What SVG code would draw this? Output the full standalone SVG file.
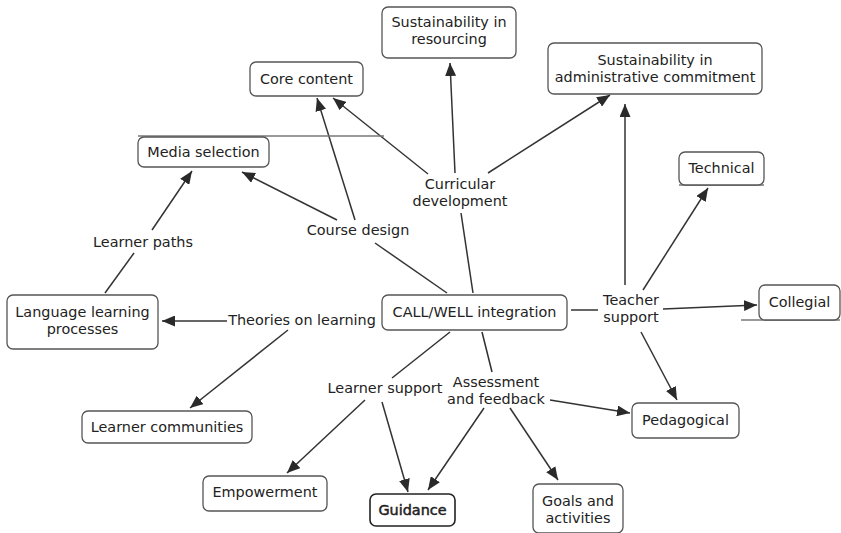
<svg xmlns="http://www.w3.org/2000/svg" width="841" height="533" viewBox="0 0 841 533">
<defs>
<marker id="ah" markerUnits="userSpaceOnUse" markerWidth="13" markerHeight="11" refX="13" refY="5.5" orient="auto">
<path d="M0,0 L13,5.5 L0,11 z" fill="#2a2a2a"/>
</marker>
</defs>
<style>
.box{fill:#fff;stroke:#555;stroke-width:1.3}
.bold{stroke:#222;stroke-width:1.6}
.t{font-family:"DejaVu Sans","Liberation Sans",sans-serif;font-size:14.4px;fill:#222;text-anchor:middle}
.c{stroke:#333;stroke-width:1.5;fill:none}
.ca{stroke:#333;stroke-width:1.5;fill:none;marker-end:url(#ah)}
.deco{stroke:#777;stroke-width:1.5}
</style>
<rect width="841" height="533" fill="#fff"/>
<g id="connectors">
<line class="c" x1="473" y1="293" x2="461" y2="213"/>
<line class="ca" x1="455" y1="173" x2="450" y2="63"/>
<line class="ca" x1="488" y1="173" x2="610" y2="95"/>
<line class="ca" x1="428" y1="174" x2="333" y2="98"/>
<line class="c" x1="447" y1="293" x2="375" y2="243"/>
<line class="ca" x1="355" y1="220" x2="317" y2="98"/>
<line class="ca" x1="337" y1="220" x2="242" y2="172"/>
<line class="c" x1="105" y1="293" x2="134" y2="253"/>
<line class="ca" x1="152" y1="230" x2="192" y2="171"/>
<line class="ca" x1="227" y1="321" x2="162" y2="321"/>
<line class="ca" x1="288" y1="330" x2="190" y2="408"/>
<line class="c" x1="571" y1="310" x2="598" y2="310" stroke-width="1"/>
<line class="ca" x1="625" y1="285" x2="625" y2="104"/>
<line class="ca" x1="643" y1="290" x2="708" y2="188"/>
<line class="ca" x1="663" y1="309" x2="757" y2="305"/>
<line class="ca" x1="641" y1="332" x2="677" y2="400"/>
<line class="c" x1="450" y1="332" x2="392" y2="378" stroke="#666"/>
<line class="ca" x1="365" y1="400" x2="287" y2="473"/>
<line class="ca" x1="382" y1="402" x2="408" y2="492"/>
<line class="c" x1="482" y1="332" x2="492" y2="372"/>
<line class="ca" x1="484" y1="408" x2="428" y2="490"/>
<line class="ca" x1="510" y1="408" x2="558" y2="480"/>
<line class="ca" x1="550" y1="400" x2="630" y2="413"/>
</g>
<g id="decorations">
<line class="deco" x1="138" y1="136" x2="384" y2="136"/>
<line class="deco" x1="741" y1="320" x2="840" y2="320"/>
<line class="deco" x1="679" y1="185" x2="764" y2="185"/>
</g>
<g id="sust-resourcing">
<rect class="box" x="382" y="7" width="134" height="51" rx="6"/>
<text class="t" x="449" y="27">Sustainability in</text>
<text class="t" x="449" y="44">resourcing</text>
</g>
<g id="core-content">
<rect class="box" x="250" y="62" width="113" height="34" rx="6"/>
<text class="t" x="306.5" y="84">Core content</text>
</g>
<g id="sust-admin">
<rect class="box" x="548" y="43" width="214" height="51" rx="6"/>
<text class="t" x="655" y="65">Sustainability in</text>
<text class="t" x="655" y="82">administrative commitment</text>
</g>
<g id="media-selection">
<rect class="box" x="138" y="137" width="131" height="30" rx="6"/>
<text class="t" x="203.5" y="157">Media selection</text>
</g>
<g id="technical">
<rect class="box" x="679" y="152" width="85" height="33" rx="6"/>
<text class="t" x="721.5" y="173">Technical</text>
</g>
<g id="language-learning">
<rect class="box" x="7" y="295" width="151" height="54" rx="6"/>
<text class="t" x="82.5" y="317">Language learning</text>
<text class="t" x="82.5" y="334">processes</text>
</g>
<g id="call-well">
<rect class="box" x="382" y="295" width="185" height="35" rx="6"/>
<text class="t" x="474.5" y="317">CALL/WELL integration</text>
</g>
<g id="collegial">
<rect class="box" x="759" y="285" width="81" height="35" rx="6"/>
<text class="t" x="799.5" y="307">Collegial</text>
</g>
<g id="learner-communities">
<rect class="box" x="82" y="411" width="170" height="32" rx="6"/>
<text class="t" x="167" y="432">Learner communities</text>
</g>
<g id="pedagogical">
<rect class="box" x="632" y="403" width="107" height="35" rx="6"/>
<text class="t" x="685.5" y="425">Pedagogical</text>
</g>
<g id="empowerment">
<rect class="box" x="203" y="476" width="124" height="35" rx="6"/>
<text class="t" x="265" y="497">Empowerment</text>
</g>
<g id="guidance">
<rect class="box bold" x="370" y="494" width="85" height="32" rx="6"/>
<text class="t" x="412.5" y="515" stroke="#222" stroke-width="0.5">Guidance</text>
</g>
<g id="goals">
<rect class="box" x="533" y="484" width="90" height="49" rx="6"/>
<text class="t" x="578" y="506">Goals and</text>
<text class="t" x="578" y="523">activities</text>
</g>
<g id="phrases">
<text class="t" x="460" y="189">Curricular</text>
<text class="t" x="460" y="206">development</text>
<text class="t" x="358" y="235">Course design</text>
<text class="t" x="143" y="247">Learner paths</text>
<text class="t" x="302" y="325">Theories on learning</text>
<text class="t" x="631" y="305">Teacher</text>
<text class="t" x="631" y="322">support</text>
<text class="t" x="385" y="393">Learner support</text>
<text class="t" x="496" y="387">Assessment</text>
<text class="t" x="496" y="404">and feedback</text>
</g>
</svg>
